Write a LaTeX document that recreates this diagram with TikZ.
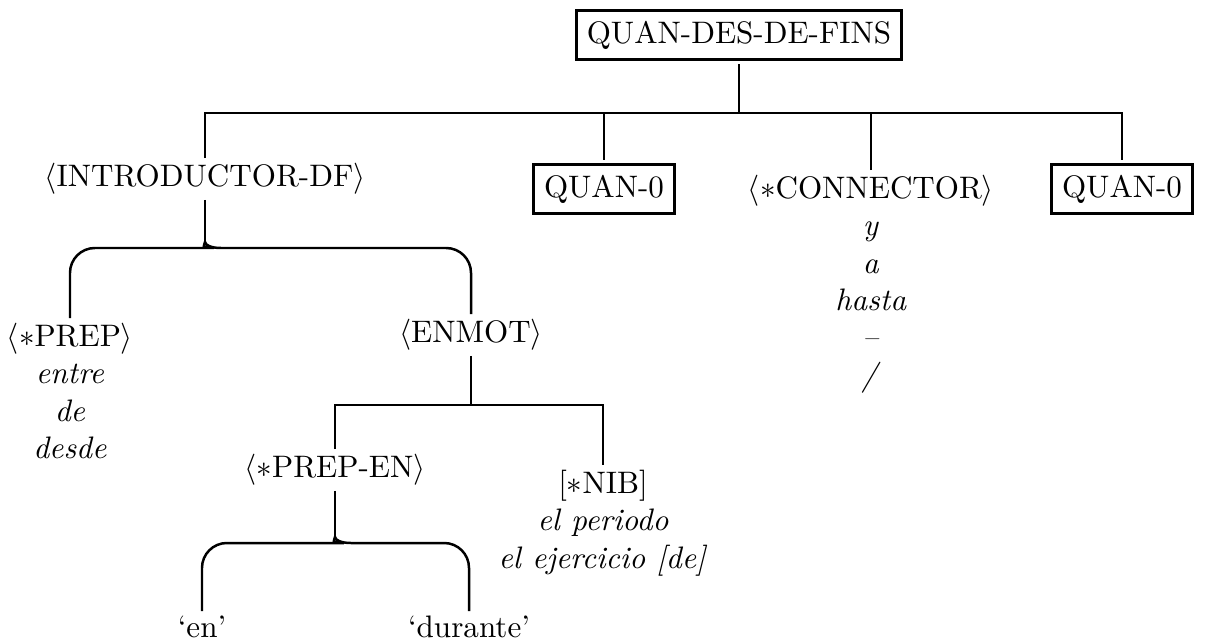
\documentclass[tikz,border=0pt]{standalone}
\usepackage{tikz}
\usetikzlibrary{calc,positioning}
\tikzset{
  wire/.style    = {line width=0.8pt},
  catbox/.style  = {draw, line width=0.8pt, inner sep=3.33pt, outer sep=1.5pt},
  cat/.style     = {inner sep=1.5pt},
  catlist/.style = {inner sep=1.5pt, align=center},
}

\begin{document}
\begin{tikzpicture}[x=0.0113cm,y=-0.0113cm]
  \useasboundingbox (0,0) rectangle (1207,644);
  % top level
  \node[catbox] (root) at (739,35) {QUAN-DES-DE-FINS};
  \node[cat] (intro) at (205,179) {$\langle$INTRODUCTOR-DF$\rangle$};
  \node[catbox] (q1) at (604,189) {QUAN-0};
  \node[catlist,anchor=north] (conn) at (871,170)
      {$\langle\ast$CONNECTOR$\rangle$\\ \textit{y}\\ \textit{a}\\ \textit{hasta}\\ \textit{--}\\ \textit{/}};
  \node[catbox] (q2) at (1122,189) {QUAN-0};
  \coordinate (bar) at (0,113);
  \draw[wire] (root.south) -- (root.south |- bar);
  \draw[wire] (intro.north) |- (q2.north |- bar) -- (q2.north);
  \foreach \n in {q1,conn}
    \draw[wire] (\n.north) -- (\n.north |- bar);

  % introductor
  \node[catlist,anchor=north] (prep) at (70,318)
      {$\langle\ast$PREP$\rangle$\\ \textit{entre}\\ \textit{de}\\ \textit{desde}};
  \node[cat] (enmot) at (471,335) {$\langle$ENMOT$\rangle$};
  \coordinate (brace1) at (0,248);
  \coordinate (itip) at ($(intro.south |- brace1)+(0,-6)$);
  \draw[wire] (intro.south) -- (itip);
  \draw[wire] (prep.north) [rounded corners=8] |- ($(itip)+(-16,6)$)
      [sharp corners] .. controls +(10,0) and +(0,3) .. (itip)
      .. controls +(0,3) and +(-10,0) .. ($(itip)+(16,6)$)
      [rounded corners=8] -| (enmot.north);

  % enmot
  \node[cat] (prepen) at (335,470) {$\langle\ast$PREP-EN$\rangle$};
  \node[catlist,anchor=north] (nib) at (603,465)
      {[$\ast$NIB]\\ \textit{el periodo}\\ \textit{el ejercicio [de]}};
  \coordinate (bar2) at (0,405);
  \draw[wire] (enmot.south) -- (enmot.south |- bar2);
  \draw[wire] (prepen.north) |- (nib.north |- bar2) -- (nib.north);

  % prep-en
  \node[cat,anchor=north] (en) at (202,611) {`en'};
  \node[cat,anchor=north] (durante) at (469,611) {`durante'};
  \coordinate (brace2) at (0,543);
  \coordinate (ptip) at ($(prepen.south |- brace2)+(0,-6)$);
  \draw[wire] (prepen.south) -- (ptip);
  \draw[wire] (en.north) [rounded corners=8] |- ($(ptip)+(-16,6)$)
      [sharp corners] .. controls +(10,0) and +(0,3) .. (ptip)
      .. controls +(0,3) and +(-10,0) .. ($(ptip)+(16,6)$)
      [rounded corners=8] -| (durante.north);
\end{tikzpicture}
\end{document}
